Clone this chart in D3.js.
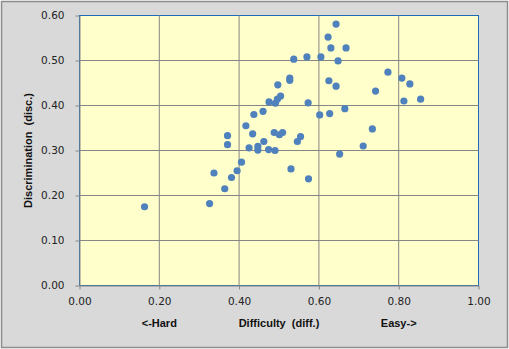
<!DOCTYPE html>
<html>
<head>
<meta charset="utf-8">
<style>
  body { margin: 0; background: #fff; }
  .tick text { font-family: "DejaVu Sans", Verdana, sans-serif; font-size: 10.5px; fill: #222; }
  .title { font-family: "Liberation Sans", Arial, sans-serif; font-size: 11px; font-weight: bold; fill: #111; }
</style>
</head>
<body>
<script src="https://cdn.jsdelivr.net/npm/d3@7"></script>
<script>
// item difficulty (x) and discrimination (y)
var difficulty = [0.163, 0.326, 0.364, 0.381, 0.337, 0.395, 0.406, 0.371, 0.371, 0.417,
                  0.437, 0.434, 0.425, 0.447, 0.447, 0.462, 0.474, 0.490, 0.488, 0.501,
                  0.509, 0.554, 0.546, 0.460, 0.475, 0.491, 0.496, 0.504, 0.497, 0.527,
                  0.527, 0.537, 0.570, 0.573, 0.530, 0.574, 0.605, 0.623, 0.643, 0.630,
                  0.668, 0.648, 0.625, 0.643, 0.602, 0.627, 0.665, 0.652, 0.711, 0.734,
                  0.742, 0.773, 0.808, 0.828, 0.813, 0.855];
var discrimination = [0.175, 0.182, 0.215, 0.240, 0.250, 0.255, 0.274, 0.333, 0.313, 0.355,
                      0.380, 0.337, 0.306, 0.309, 0.301, 0.320, 0.302, 0.300, 0.340, 0.335,
                      0.340, 0.331, 0.320, 0.387, 0.408, 0.405, 0.414, 0.421, 0.446, 0.461,
                      0.456, 0.503, 0.508, 0.406, 0.259, 0.237, 0.508, 0.552, 0.581, 0.528,
                      0.528, 0.499, 0.455, 0.443, 0.379, 0.382, 0.393, 0.292, 0.310, 0.348,
                      0.432, 0.474, 0.461, 0.448, 0.410, 0.414];
var xTicks = [0, 0.2, 0.4, 0.6, 0.8, 1.0];
var yTicks = [0, 0.1, 0.2, 0.3, 0.4, 0.5, 0.6];
var xTitles = [{ label: "<-Hard", at: 0.2 }, { label: "Difficulty  (diff.)", at: 0.5 }, { label: "Easy->", at: 0.8 }];
var yTitle = "Discrimination  (disc.)";

var W = 509, H = 349;
var x0 = 79.5, x1 = 478.5, yTop = 15.5, yBot = 285.5;

var svg = d3.select("body").append("svg")
  .attr("width", W)
  .attr("height", H);

// chart background + border
svg.append("rect")
  .attr("x", 1.5).attr("y", 1.5)
  .attr("width", W - 3).attr("height", H - 3)
  .attr("fill", "#d9d9d9")
  .attr("stroke", "#8c8c8c")
  .attr("stroke-width", 1.5);

var x = d3.scaleLinear().domain([0, 1]).range([x0, x1]);
var y = d3.scaleLinear().domain([0, 0.6]).range([yBot, yTop]);

// plot area
svg.append("rect")
  .attr("x", x0).attr("y", yTop)
  .attr("width", x1 - x0).attr("height", yBot - yTop)
  .attr("fill", "#ffffcc")
  .attr("stroke", "#1c6db5")
  .attr("stroke-width", 1);

// grid lines
svg.append("g")
  .selectAll("line.v")
  .data(xTicks.slice(1, -1))
  .enter().append("line")
  .attr("x1", function(d) { return x(d); })
  .attr("x2", function(d) { return x(d); })
  .attr("y1", yTop).attr("y2", yBot)
  .attr("stroke", "#868686");
svg.append("g")
  .selectAll("line.h")
  .data(yTicks.slice(1, -1))
  .enter().append("line")
  .attr("x1", x0).attr("x2", x1)
  .attr("y1", function(d) { return y(d); })
  .attr("y2", function(d) { return y(d); })
  .attr("stroke", "#868686");

// axes
var xAxis = svg.append("g")
  .attr("transform", "translate(0," + yBot + ")")
  .call(d3.axisBottom(x).tickValues(xTicks).tickFormat(d3.format(".2f")).tickSize(4).tickSizeOuter(0).tickPadding(8));
var yAxis = svg.append("g")
  .attr("transform", "translate(" + x0 + ",0)")
  .call(d3.axisLeft(y).tickValues(yTicks).tickFormat(d3.format(".2f")).tickSize(4).tickSizeOuter(0).tickPadding(11));
[xAxis, yAxis].forEach(function(a) {
  a.select(".domain").attr("stroke", "#868686");
  a.selectAll(".tick line").attr("stroke", "#868686");
  a.attr("font-family", null).attr("font-size", null);
});

// points
svg.append("g")
  .selectAll("circle")
  .data(difficulty)
  .enter().append("circle")
  .attr("cx", function(d) { return x(d); })
  .attr("cy", function(d, i) { return y(discrimination[i]); })
  .attr("r", 3.6)
  .attr("fill", "#4f81bd");

// titles
svg.selectAll("text.xt")
  .data(xTitles)
  .enter().append("text")
  .attr("class", "title")
  .attr("x", function(d) { return x(d.at); })
  .attr("y", 326.5)
  .attr("text-anchor", "middle")
  .style("white-space", "pre")
  .text(function(d) { return d.label; });

svg.append("text")
  .attr("class", "title")
  .attr("transform", "translate(31.5," + ((yTop + yBot) / 2) + ") rotate(-90)")
  .attr("text-anchor", "middle")
  .style("white-space", "pre")
  .text(yTitle);
</script>
</body>
</html>
